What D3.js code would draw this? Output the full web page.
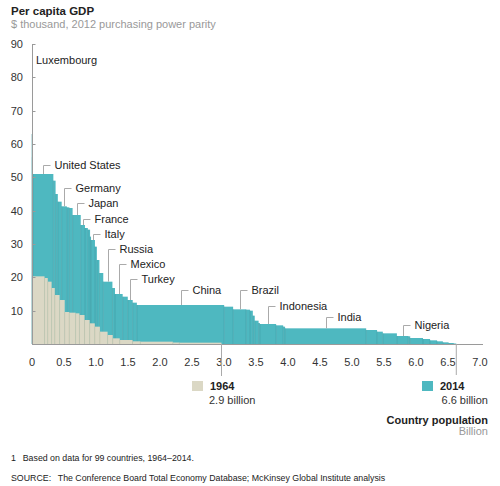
<!DOCTYPE html>
<html><head><meta charset="utf-8">
<script src="https://cdn.jsdelivr.net/npm/d3@7"></script>
<style>
html,body{margin:0;padding:0;background:#fff;}
svg{display:block;font-family:"Liberation Sans",Arial,sans-serif;}
</style></head>
<body>
<svg id="chart" width="500" height="486"></svg>
<script>
// ---- data ----
const names2014 = ["Luxembourg","","","United States","","","","Germany","","","Japan","France","","","","Italy","","","","Russia","","Mexico","","Turkey","","China","","Brazil","","","","","","Indonesia","","","India","","","","Nigeria","","","","","","","",""];
const gdp2014 = [90,63,56,51.0,49,45,42.7,41.3,41.0,40.8,38.7,35.7,34.8,34.3,32.2,31.2,29.2,25.2,21.3,18.7,16.8,15.0,14.2,13.2,12.4,11.7,11.2,10.4,10.3,10.0,8.5,7.0,6.3,6.0,5.6,5.2,4.7,4.2,3.7,3.2,2.4,2.3,1.8,1.5,1.1,0.8,0.5,0.3,0.15];
const pop2014 = [0.0006,0.005,0.008,0.32,0.035,0.035,0.06,0.081,0.04,0.05,0.127,0.066,0.045,0.035,0.015,0.061,0.03,0.04,0.06,0.143,0.04,0.12,0.08,0.077,0.065,1.364,0.14,0.203,0.06,0.045,0.03,0.06,0.02,0.254,0.11,0.03,1.267,0.17,0.09,0.22,0.178,0.03,0.2,0.11,0.11,0.09,0.09,0.08,0.04];

const gdp1964 = [26.7,20.3,19.8,18.7,16.8,14.7,13.2,9.6,9.4,9.2,8.7,7.2,6.2,5.2,3.7,2.7,1.7,1.2,0.8,0.7,0.45,0.4];
const pop1964 = [0.006,0.19,0.05,0.06,0.05,0.075,0.08,0.07,0.1,0.06,0.08,0.08,0.08,0.08,0.12,0.08,0.11,0.2,0.12,0.51,0.1,0.66];

const yTicks = [10,20,30,40,50,60,70,80,90];
const xTicks = [0,0.5,1,1.5,2,2.5,3,3.5,4,4.5,5,5.5,6,6.5,7];
const legendYears = ["1964","2014"];
const legendTotals = ["2.9 billion","6.6 billion"];

// label heights (in $ thousand) for the country annotations
const labelLevel = {"Luxembourg":85.3,"United States":53.8,"Germany":46.9,"Japan":42.3,"France":37.5,"Italy":33,"Russia":28.5,"Mexico":24,"Turkey":19.5,"China":16.2,"Brazil":16.2,"Indonesia":11.4,"India":8,"Nigeria":5.7};

// ---- layout ----
const teal = "#4eb8c0", tealLine = "#3b9ba3";
const beige = "#dbd8c5", beigeLine = "#c6c1a8";
const svg = d3.select("#chart");
const x = d3.scaleLinear().domain([0,7]).range([32,480]);
const y = d3.scaleLinear().domain([0,90]).range([344,44]);

function stack(vals, pops, names){
  let acc = 0;
  return vals.map((v,i)=>{const d={v, x0:acc, x1:acc+pops[i], name:names?names[i]:"", prev: i?vals[i-1]:v}; acc+=pops[i]; return d;});
}
const s14 = stack(gdp2014, pop2014, names2014);
const s64 = stack(gdp1964, pop1964);
const tot14 = d3.sum(pop2014), tot64 = d3.sum(pop1964);

// title
svg.append("text").attr("x",11).attr("y",15).attr("font-size",11.5).attr("font-weight","bold").attr("fill","#222").text("Per capita GDP");
svg.append("text").attr("x",11).attr("y",28).attr("font-size",11).attr("fill","#999").text("$ thousand, 2012 purchasing power parity");

// bars 2014
const g14 = svg.append("g");
g14.selectAll("rect").data(s14).join("rect")
  .attr("x",d=>x(d.x0)).attr("width",d=>x(d.x1)-x(d.x0))
  .attr("y",d=>y(d.v)).attr("height",d=>y(0)-y(d.v)).attr("fill",teal);
g14.selectAll("line").data(s14.slice(1)).join("line")
  .attr("x1",d=>x(d.x0)).attr("x2",d=>x(d.x0))
  .attr("y1",y(0)).attr("y2",d=>y(Math.min(d.v,d.prev)))
  .attr("stroke",tealLine).attr("stroke-width",0.6);

// bars 1964
const g64 = svg.append("g");
g64.selectAll("rect").data(s64).join("rect")
  .attr("x",d=>x(d.x0)).attr("width",d=>x(d.x1)-x(d.x0))
  .attr("y",d=>y(d.v)).attr("height",d=>y(0)-y(d.v)).attr("fill",beige);
g64.selectAll("line").data(s64.slice(1)).join("line")
  .attr("x1",d=>x(d.x0)).attr("x2",d=>x(d.x0))
  .attr("y1",y(0)).attr("y2",d=>y(Math.min(d.v,d.prev)))
  .attr("stroke",beigeLine).attr("stroke-width",0.6);

// axes
const ax = svg.append("g").attr("stroke","#9a9a9a").attr("stroke-width",1);
ax.append("line").attr("x1",x(0)+0.5).attr("x2",x(0)+0.5).attr("y1",y(0)).attr("y2",y(90));
ax.append("line").attr("x1",x(0)).attr("x2",x(7)+3).attr("y1",y(0)+0.5).attr("y2",y(0)+0.5);
ax.selectAll(".yt").data(yTicks).join("line").attr("class","yt")
  .attr("x1",x(0)+0.5).attr("x2",x(0)+3.5).attr("y1",d=>Math.round(y(d))+0.5).attr("y2",d=>Math.round(y(d))+0.5);
svg.selectAll(".yl").data(yTicks).join("text").attr("class","yl")
  .attr("x",23).attr("y",d=>y(d)+4).attr("text-anchor","end").attr("font-size",11).attr("fill","#333").text(d=>d);
svg.selectAll(".xl").data(xTicks).join("text").attr("class","xl")
  .attr("x",d=>x(d)).attr("y",366).attr("text-anchor","middle").attr("font-size",11).attr("fill","#333")
  .text(d=>d===0?"0":d.toFixed(1));

// totals leaders
svg.append("line").attr("x1",x(tot64)).attr("x2",x(tot64)).attr("y1",y(0)).attr("y2",376).attr("stroke","#aaa");
svg.append("line").attr("x1",x(tot14)).attr("x2",x(tot14)).attr("y1",y(0)).attr("y2",375).attr("stroke","#aaa");

// country labels
const lab = svg.append("g");
s14.filter(d=>d.name).forEach(d=>{
  const ly = y(labelLevel[d.name]);
  if(d.name==="Luxembourg"){
    lab.append("text").attr("x",x(0)+4).attr("y",ly+4).attr("font-size",11).attr("fill","#222").text(d.name);
    return;
  }
  const cx = Math.round((x(d.x0)+x(d.x1))/2)+0.5;
  lab.append("path").attr("d",`M${cx},${y(d.v)}V${Math.round(ly)+0.5}H${cx+7}`)
    .attr("fill","none").attr("stroke","#aaa").attr("stroke-width",1);
  lab.append("text").attr("x",cx+11).attr("y",ly+4).attr("font-size",11).attr("fill","#222").text(d.name);
});

// legend
const lg = svg.append("g");
lg.append("rect").attr("x",192).attr("y",381).attr("width",11).attr("height",10).attr("fill",beige);
lg.append("text").attr("x",210).attr("y",390).attr("font-size",11).attr("font-weight","bold").attr("fill","#222").text(legendYears[0]);
lg.append("text").attr("x",209).attr("y",404).attr("font-size",11).attr("fill","#333").text(legendTotals[0]);
lg.append("rect").attr("x",422).attr("y",381).attr("width",11).attr("height",10).attr("fill",teal);
lg.append("text").attr("x",440).attr("y",390).attr("font-size",11).attr("font-weight","bold").attr("fill","#222").text(legendYears[1]);
lg.append("text").attr("x",488).attr("y",404).attr("text-anchor","end").attr("font-size",11).attr("fill","#333").text(legendTotals[1]);
lg.append("text").attr("x",488).attr("y",424).attr("text-anchor","end").attr("font-size",11).attr("font-weight","bold").attr("fill","#222").text("Country population");
lg.append("text").attr("x",488).attr("y",435).attr("text-anchor","end").attr("font-size",11).attr("fill","#999").text("Billion");

// notes
svg.append("text").attr("x",11).attr("y",461).attr("font-size",8.8).attr("fill","#222").text("1\u2002 Based on data for 99 countries, 1964\u20132014.");
svg.append("text").attr("x",11).attr("y",481).attr("font-size",8.8).attr("fill","#222").text("SOURCE:\u2002 The Conference Board Total Economy Database; McKinsey Global Institute analysis");
</script>
</body></html>
